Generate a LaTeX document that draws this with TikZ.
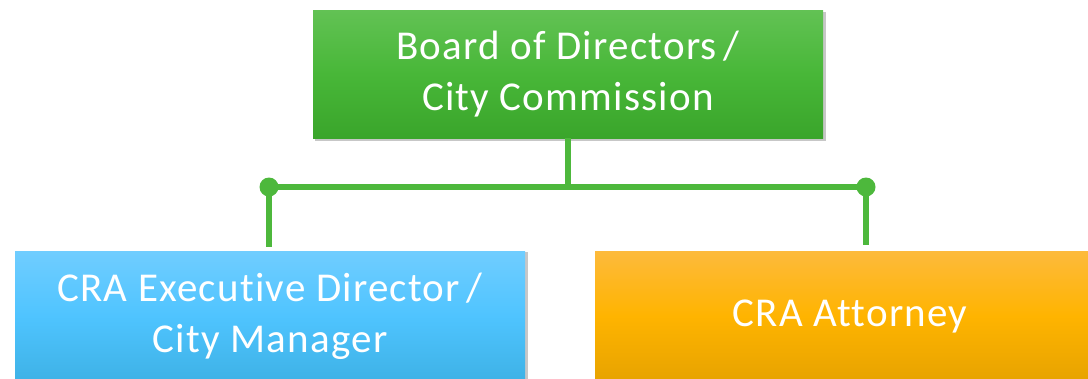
\documentclass[tikz,border=0pt]{standalone}
\usepackage{fontspec}
\setmainfont{Carlito}[Ligatures={NoCommon}, LetterSpace=3]
\begin{document}
\begin{tikzpicture}[x=1pt,y=-1pt,
  orgbox/.style={rectangle, minimum width=510pt, minimum height=130pt, inner sep=0pt,
    align=center, text=white, font=\fontsize{41}{51}\selectfont},
  greenbox/.style={orgbox, minimum height=128pt, top color=grtop, bottom color=grbot, middle color=grmid},
  bluebox/.style={orgbox, top color=bltop, bottom color=blbot, middle color=blmid},
  orangebox/.style={orgbox, top color=ortop, bottom color=orbot, middle color=ormid},
  conn/.style={draw=lineg, line width=5.5pt},
  joint/.style={circle, fill=lineg, inner sep=0pt, minimum size=19pt},
  shade/.style={fill=black, opacity=0.22}
]
\definecolor{grtop}{HTML}{62C254}
\definecolor{grmid}{HTML}{48B738}
\definecolor{grbot}{HTML}{3AA52B}
\definecolor{bltop}{HTML}{70CDFF}
\definecolor{blmid}{HTML}{4FC4FF}
\definecolor{blbot}{HTML}{3EB2E6}
\definecolor{ortop}{HTML}{FDBA3C}
\definecolor{ormid}{HTML}{FFB400}
\definecolor{orbot}{HTML}{E7A300}
\definecolor{lineg}{HTML}{4DB83C}
\useasboundingbox (0,0) rectangle (1088,378);
\clip (0,0) rectangle (1088,378);
\fill[shade] (315,12) rectangle (826,141);
\fill[shade] (17,252) rectangle (528,390);
\fill[shade] (597,254) rectangle (1110,390);
\node[greenbox] (board) at (568,74) {Board of Directors\,/\\City Commission};
\node[bluebox] (exec) at (270,316) {CRA Executive Director\,/\\City Manager};
\node[orangebox] (atty) at (850,316) {CRA Attorney};
\coordinate (jl) at (269,187);
\coordinate (jr) at (866,187);
\coordinate (jm) at (board.south |- jl);
\draw[conn] (board.south) -- (jm);
\draw[conn] (jl) -- (jr);
\draw[conn, shorten >=4pt] (jl) -- (jl |- exec.north);
\draw[conn, shorten >=6pt] (jr) -- (jr |- atty.north);
\node[joint] at (jl) {};
\node[joint] at (jr) {};
\end{tikzpicture}
\end{document}
